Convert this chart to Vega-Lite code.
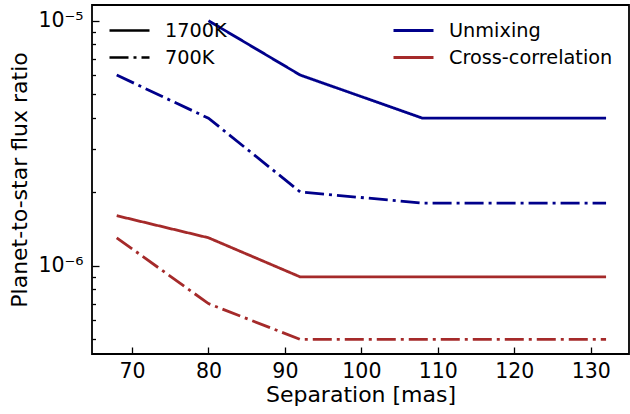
{
  "$schema": "https://vega.github.io/schema/vega-lite/v6.json",
  "autosize": {"type": "none"},
  "width": 537,
  "height": 349,
  "padding": {"left": 92, "top": 5, "right": 1, "bottom": 60},
  "background": "white",
  "config": {
    "font": "DejaVu Sans",
    "view": {"stroke": "black", "strokeWidth": 1.8},
    "axis": {"grid": false, "domain": false, "tickColor": "black", "tickWidth": 1.3, "labelColor": "black", "titleColor": "black", "labelFont": "DejaVu Sans", "titleFont": "DejaVu Sans", "titleFontWeight": "normal"}
  },
  "data": {
    "values": [
      {"method": "Unmixing", "temp": "1700K", "sep": 80, "ratio": 1e-5},
      {"method": "Unmixing", "temp": "1700K", "sep": 92, "ratio": 6e-6},
      {"method": "Unmixing", "temp": "1700K", "sep": 108, "ratio": 4e-6},
      {"method": "Unmixing", "temp": "1700K", "sep": 132, "ratio": 4e-6},
      {"method": "Unmixing", "temp": "700K", "sep": 68, "ratio": 6e-6},
      {"method": "Unmixing", "temp": "700K", "sep": 80, "ratio": 4e-6},
      {"method": "Unmixing", "temp": "700K", "sep": 92, "ratio": 2e-6},
      {"method": "Unmixing", "temp": "700K", "sep": 108, "ratio": 1.8e-6},
      {"method": "Unmixing", "temp": "700K", "sep": 132, "ratio": 1.8e-6},
      {"method": "Cross-correlation", "temp": "1700K", "sep": 68, "ratio": 1.6e-6},
      {"method": "Cross-correlation", "temp": "1700K", "sep": 80, "ratio": 1.3e-6},
      {"method": "Cross-correlation", "temp": "1700K", "sep": 92, "ratio": 9e-7},
      {"method": "Cross-correlation", "temp": "1700K", "sep": 132, "ratio": 9e-7},
      {"method": "Cross-correlation", "temp": "700K", "sep": 68, "ratio": 1.3e-6},
      {"method": "Cross-correlation", "temp": "700K", "sep": 80, "ratio": 7e-7},
      {"method": "Cross-correlation", "temp": "700K", "sep": 92, "ratio": 5e-7},
      {"method": "Cross-correlation", "temp": "700K", "sep": 132, "ratio": 5e-7}
    ]
  },
  "resolve": {"axis": {"y": "independent"}},
  "layer": [
    {
      "mark": {"type": "line", "strokeWidth": 0, "opacity": 0},
      "encoding": {
        "x": {
          "field": "sep", "type": "quantitative",
          "scale": {"domain": [64.77, 135], "nice": false, "zero": false},
          "axis": {"values": [70, 80, 90, 100, 110, 120, 130], "title": "Separation [mas]", "titleFontSize": 22, "labelFontSize": 20.5, "tickSize": 7, "offset": -7, "labelPadding": 7, "titlePadding": 3}
        },
        "y": {
          "field": "ratio", "type": "quantitative",
          "scale": {"type": "log", "domain": [4.36e-7, 1.159e-5], "nice": false},
          "axis": {"orient": "left", "values": [5e-7, 6e-7, 7e-7, 8e-7, 9e-7, 2e-6, 3e-6, 4e-6, 5e-6, 6e-6, 7e-6, 8e-6, 9e-6], "labels": false, "title": null, "tickSize": 3.5, "offset": -3.5}
        },
        "detail": {"field": "method"}
      }
    },
    {
      "mark": {"type": "line", "strokeWidth": 2.8, "clip": true},
      "encoding": {
        "x": {
          "field": "sep", "type": "quantitative",
          "scale": {"domain": [64.77, 135], "nice": false, "zero": false},
          "axis": {"values": [70, 80, 90, 100, 110, 120, 130], "title": "Separation [mas]", "titleFontSize": 22, "labelFontSize": 20.5, "tickSize": 7, "offset": -7, "labelPadding": 7, "titlePadding": 3}
        },
        "y": {
          "field": "ratio", "type": "quantitative",
          "scale": {"type": "log", "domain": [4.36e-7, 1.159e-5], "nice": false},
          "axis": {
            "orient": "left",
            "values": [1e-6, 1e-5],
            "labelExpr": "datum.value > 5e-6 ? '10⁻⁵' : '10⁻⁶'",
            "tickSize": 7, "offset": -7,
            "labelPadding": 9,
            "labelFontSize": 20.5,
            "title": "Planet-to-star flux ratio", "titleFontSize": 22, "titlePadding": 6
          }
        },
        "color": {
          "field": "method", "type": "nominal",
          "scale": {"domain": ["Unmixing", "Cross-correlation"], "range": ["#00008b", "#a52a2a"]},
          "legend": {"title": null, "orient": "none", "legendX": 300, "legendY": 13, "symbolType": "stroke", "symbolSize": 1600, "symbolStrokeWidth": 2.8, "labelFontSize": 19.3, "labelLimit": 400, "labelColor": "black", "clipHeight": 25, "rowPadding": 2, "labelOffset": 14}
        },
        "strokeDash": {
          "field": "temp", "type": "nominal",
          "scale": {"domain": ["1700K", "700K"], "range": [[1, 0], [19, 5, 3, 5]]},
          "legend": {"title": null, "orient": "none", "legendX": 16, "legendY": 13, "symbolType": "stroke", "symbolSize": 1600, "symbolStrokeWidth": 2.5, "symbolStrokeColor": "black", "labelFontSize": 19.3, "labelLimit": 400, "labelColor": "black", "clipHeight": 25, "rowPadding": 2, "labelOffset": 14}
        },
        "detail": {"field": "method"}
      }
    }
  ]
}
